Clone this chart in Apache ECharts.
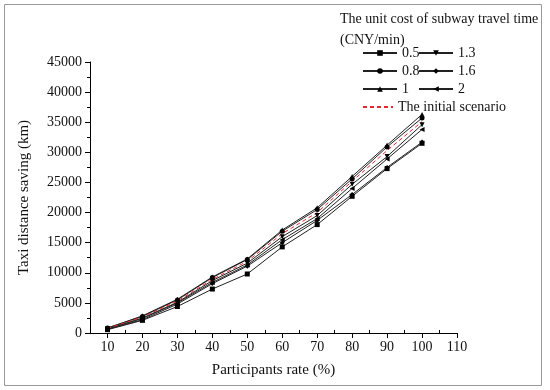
<!DOCTYPE html>
<html><head><meta charset="utf-8">
<script src="https://cdn.jsdelivr.net/npm/echarts@6/dist/echarts.min.js"></script>
<style>html,body{margin:0;padding:0;background:#fff}#c{width:550px;height:390px}</style>
</head><body><div id="c"></div>
<script>
const rates = [10, 20, 30, 40, 50, 60, 70, 80, 90, 100];
const xTicks = [10, 20, 30, 40, 50, 60, 70, 80, 90, 100, 110];
const xMinor = [15, 25, 35, 45, 55, 65, 75, 85, 95, 105];
const s05 = [550, 2100, 4400, 7300, 9800, 14300, 18000, 22700, 27300, 31500];
const s08 = [850, 2750, 5500, 9200, 12200, 16900, 20500, 25600, 30900, 35700];
const s1 = [800, 2850, 5600, 9300, 12300, 17100, 20800, 26000, 31200, 36300];
const s13 = [700, 2500, 5100, 8700, 11600, 16000, 19500, 24700, 29300, 34600];
const s16 = [600, 2200, 4800, 8200, 11100, 15000, 18700, 23000, 27500, 31700];
const s2 = [650, 2400, 5000, 8400, 11300, 15500, 19000, 24000, 28900, 33800];
const sInit = [750, 2650, 5300, 8900, 11900, 16500, 20000, 25200, 30300, 35100];

const serif = 'Liberation Serif';
function mk(name, data, symbol, rot) {
  return {
    name: name, type: 'line', data: rates.map((r, i) => [r, data[i]]),
    symbol: symbol, symbolSize: 5, symbolRotate: rot || 0,
    lineStyle: {color: '#222', width: 1}, itemStyle: {color: '#000'},
    emphasis: {disabled: true}, animation: false
  };
}
const series = [
  mk('0.5', s05, 'rect'),
  mk('0.8', s08, 'circle'),
  mk('1', s1, 'triangle'),
  mk('1.3', s13, 'triangle', 180),
  mk('1.6', s16, 'diamond'),
  mk('2', s2, 'triangle', 90),
  {name: 'The initial scenario', type: 'line', data: rates.map((r, i) => [r, sInit[i]]),
   symbol: 'none', lineStyle: {color: '#e8262b', width: 1, type: [4, 3]},
   itemStyle: {color: '#e8262b'}, animation: false}
];
const legText = {fontFamily: serif, fontSize: 14, color: '#111'};
const chart = echarts.init(document.getElementById('c'));
chart.setOption({
  backgroundColor: '#fff',
  animation: false,
  title: {text: 'The unit cost of subway travel time\n(CNY/min)', left: 335, top: 4,
    textStyle: {fontFamily: serif, fontSize: 14, fontWeight: 'normal', color: '#111', lineHeight: 21}},
  legend: [
    {data: ['0.5', '0.8', '1'], orient: 'vertical', left: 362, top: 46, itemWidth: 34, itemHeight: 7,
     itemGap: 4, textStyle: legText, padding: 0, selectedMode: false},
    {data: ['1.3', '1.6', '2'], orient: 'vertical', left: 418, top: 46, itemWidth: 34, itemHeight: 7,
     itemGap: 4, textStyle: legText, padding: 0, selectedMode: false},
    {data: ['The initial scenario'], left: 362, top: 100, itemWidth: 30, itemHeight: 7,
     itemStyle: {opacity: 0}, textStyle: legText,
     padding: 0, selectedMode: false}
  ],
  grid: {left: 90, right: 93, top: 62, bottom: 57},
  xAxis: [{
    type: 'value', min: 5, max: 110,
    name: 'Participants rate (%)', nameLocation: 'middle', nameGap: 30,
    nameTextStyle: {fontFamily: serif, fontSize: 15, color: '#111'},
    axisLine: {lineStyle: {color: '#000', width: 1}},
    axisTick: {inside: false, length: 5, customValues: xTicks, lineStyle: {color: '#000'}},
    axisLabel: {customValues: xTicks, fontFamily: serif, fontSize: 14, color: '#111', margin: 7},
    splitLine: {show: false}
  }, {
    type: 'value', min: 5, max: 110, position: 'bottom', gridIndex: 0,
    axisLine: {show: false},
    axisTick: {inside: true, length: 3, customValues: xMinor, lineStyle: {color: '#000'}},
    axisLabel: {show: false}, splitLine: {show: false}
  }],
  yAxis: {
    type: 'value', min: 0, max: 45000, interval: 5000,
    name: 'Taxi distance saving (km)', nameLocation: 'middle', nameGap: 58, nameRotate: 90,
    nameTextStyle: {fontFamily: serif, fontSize: 15, color: '#111'},
    axisLine: {show: true, lineStyle: {color: '#000', width: 1}},
    axisTick: {show: true, inside: false, length: 5, lineStyle: {color: '#000'}},
    minorTick: {show: true, splitNumber: 2, length: 3, lineStyle: {color: '#000'}},
    axisLabel: {fontFamily: serif, fontSize: 14, color: '#111', margin: 8, formatter: v => String(v)},
    splitLine: {show: false}
  },
  graphic: [{type: 'rect', shape: {x: 4.5, y: 4.5, width: 537, height: 381},
    style: {fill: 'none', stroke: '#999', lineWidth: 1}, silent: true, z: -1}],
  series: series
});
</script></body></html>
